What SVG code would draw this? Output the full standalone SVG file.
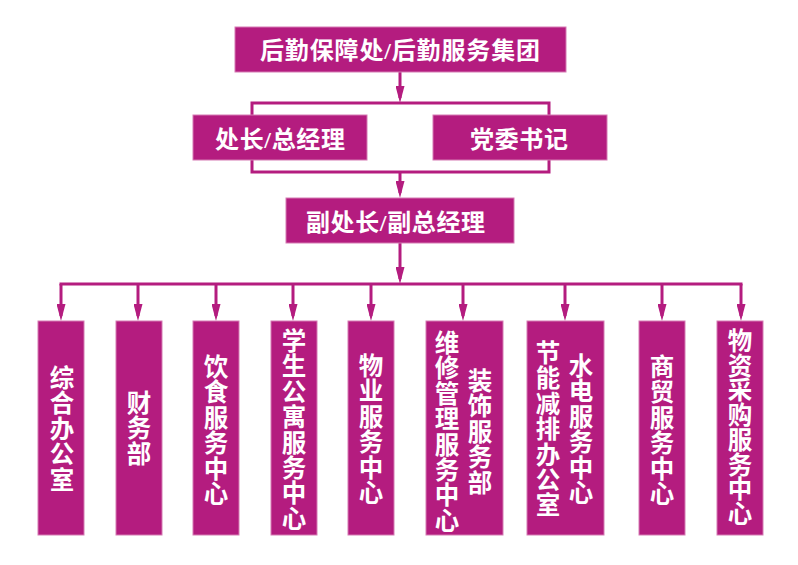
<svg xmlns="http://www.w3.org/2000/svg" width="798" height="565" viewBox="0 0 798 565">
<defs>
<style>
.box{fill:#B41C7F;stroke:#D57BB3;stroke-width:1}
.ln{fill:none;stroke:#B41C7F;stroke-width:3}
.ar{marker-end:url(#arr)}
.t{font-family:"Liberation Serif","Noto Sans CJK SC",serif;font-weight:bold;fill:#FFFFFF;font-size:24px}
.v{font-family:"Noto Sans CJK SC",sans-serif;font-weight:bold;fill:#FFFFFF;font-size:24.5px;writing-mode:vertical-rl;letter-spacing:0.9px}
</style>
<marker id="arr" markerUnits="userSpaceOnUse" markerWidth="17" markerHeight="9" viewBox="0 0 17 9" refX="12" refY="4.5" orient="auto">
<path d="M0,0 L17,4.5 L0,9 Z" fill="#B41C7F"/>
</marker>
</defs>
<rect width="798" height="565" fill="#FFFFFF"/>
<g id="connectors">
<line class="ln ar" x1="400" y1="72" x2="400" y2="98"/>
<rect class="ln" x="252" y="103" width="297" height="69"/>
<line class="ln ar" x1="400" y1="172" x2="400" y2="193"/>
<line class="ln ar" x1="400" y1="243" x2="400" y2="279"/>
<line class="ln" x1="59.5" y1="284" x2="742.5" y2="284"/>
<line class="ln ar" x1="61" y1="284" x2="61" y2="316"/>
<line class="ln ar" x1="138" y1="284" x2="138" y2="316"/>
<line class="ln ar" x1="216" y1="284" x2="216" y2="316"/>
<line class="ln ar" x1="293" y1="284" x2="293" y2="316"/>
<line class="ln ar" x1="371" y1="284" x2="371" y2="316"/>
<line class="ln ar" x1="463" y1="284" x2="463" y2="316"/>
<line class="ln ar" x1="565" y1="284" x2="565" y2="316"/>
<line class="ln ar" x1="662" y1="284" x2="662" y2="316"/>
<line class="ln ar" x1="741" y1="284" x2="741" y2="316"/>
</g>
<g id="n-top">
<rect class="box" x="235" y="27" width="331" height="45"/>
<text class="t" x="260" y="59" textLength="280" lengthAdjust="spacing">后勤保障处/后勤服务集团</text>
</g>
<g id="n-chuzhang">
<rect class="box" x="193" y="115" width="174" height="45"/>
<text class="t" x="215" y="148" textLength="130" lengthAdjust="spacing">处长/总经理</text>
</g>
<g id="n-dangwei">
<rect class="box" x="433" y="115" width="174" height="45"/>
<text class="t" x="470" y="148" textLength="98" lengthAdjust="spacing">党委书记</text>
</g>
<g id="n-fuchu">
<rect class="box" x="286" y="198" width="228" height="45"/>
<text class="t" x="306" y="231" textLength="179" lengthAdjust="spacing">副处长/副总经理</text>
</g>
<g id="n-zonghe">
<rect class="box" x="38" y="321" width="46" height="214"/>
<text class="v" x="62" y="365.5">综合办公室</text>
</g>
<g id="n-caiwu">
<rect class="box" x="116" y="321" width="46" height="214"/>
<text class="v" x="139" y="390.5">财务部</text>
</g>
<g id="n-yinshi">
<rect class="box" x="193" y="321" width="46" height="214"/>
<text class="v" x="216" y="354.5">饮食服务中心</text>
</g>
<g id="n-gongyu">
<rect class="box" x="271" y="321" width="46" height="214"/>
<text class="v" x="294" y="328.5">学生公寓服务中心</text>
</g>
<g id="n-wuye">
<rect class="box" x="348" y="321" width="46" height="214"/>
<text class="v" x="371" y="353.5">物业服务中心</text>
</g>
<g id="n-weixiu">
<rect class="box" x="426" y="321" width="77" height="214"/>
<text class="v" x="447" y="330.5">维修管理服务中心</text>
<text class="v" x="480" y="368.5">装饰服务部</text>
</g>
<g id="n-jieneng">
<rect class="box" x="527" y="321" width="77" height="214"/>
<text class="v" x="548" y="340.5">节能减排办公室</text>
<text class="v" x="581" y="353.5">水电服务中心</text>
</g>
<g id="n-shangmao">
<rect class="box" x="639" y="321" width="46" height="214"/>
<text class="v" x="662" y="354.5">商贸服务中心</text>
</g>
<g id="n-wuzi">
<rect class="box" x="717" y="321" width="46" height="214"/>
<text class="v" x="740" y="328.5" style="letter-spacing:0.2px">物资采购服务中心</text>
</g>
</svg>
